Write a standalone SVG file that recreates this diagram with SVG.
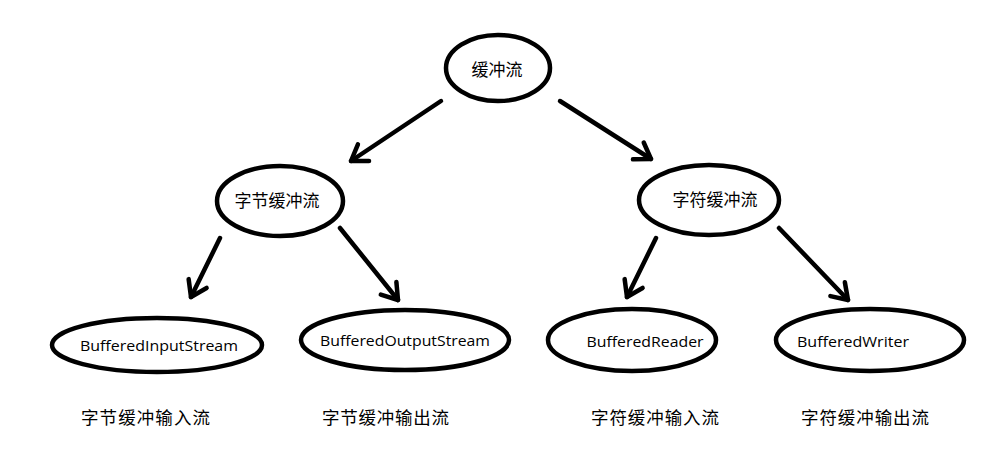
<svg xmlns="http://www.w3.org/2000/svg" width="1003" height="459" viewBox="0 0 1003 459">
<defs>
<style>
.n ellipse{fill:#fff;stroke:#000;stroke-width:4.5}
.cj{font-family:"Noto Sans CJK SC","Noto Sans",sans-serif;font-size:17px;fill:#000;text-anchor:middle}
.en{font-family:"Open Sans","Noto Sans",sans-serif;font-size:14px;fill:#000;text-anchor:middle}
.lb{font-family:"Noto Sans CJK SC","Noto Sans",sans-serif;font-size:17.5px;fill:#000}
.e line{stroke:#000;stroke-width:4.5;stroke-linecap:round;marker-end:url(#ah)}
</style>
<marker id="ah" markerUnits="userSpaceOnUse" markerWidth="40" markerHeight="40" viewBox="-20 -20 40 40" refX="0" refY="0" orient="auto" overflow="visible">
<path d="M-15,-10 L0,0 L-15,10" fill="none" stroke="#000" stroke-width="4.5" stroke-linecap="round" stroke-linejoin="round"/>
</marker>
</defs>
<rect width="1003" height="459" fill="#fff"/>
<g id="connectors" class="e">
<line x1="441" y1="101" x2="351" y2="161"/>
<line x1="560" y1="101" x2="651" y2="159"/>
<line x1="220" y1="238" x2="191" y2="297"/>
<line x1="340" y1="228" x2="398" y2="300"/>
<line x1="656" y1="238" x2="627" y2="297"/>
<line x1="779" y1="228" x2="848" y2="300"/>
</g>
<g id="root" class="n"><ellipse cx="498" cy="68" rx="52" ry="33"/><text class="cj" x="497" y="76">缓冲流</text></g>
<g id="byte" class="n"><ellipse cx="280" cy="201" rx="63" ry="35"/><text class="cj" x="277" y="207">字节缓冲流</text></g>
<g id="char" class="n"><ellipse cx="709" cy="200" rx="70" ry="35"/><text class="cj" x="715" y="206">字符缓冲流</text></g>
<g id="bis" class="n"><ellipse cx="157" cy="345" rx="105" ry="27"/><text class="en" x="159" y="351" textLength="158" lengthAdjust="spacingAndGlyphs">BufferedInputStream</text></g>
<g id="bos" class="n"><ellipse cx="405" cy="340" rx="104" ry="30"/><text class="en" x="405" y="346" textLength="170" lengthAdjust="spacingAndGlyphs">BufferedOutputStream</text></g>
<g id="br" class="n"><ellipse cx="632" cy="340" rx="84" ry="31"/><text class="en" x="645" y="347" textLength="117" lengthAdjust="spacingAndGlyphs">BufferedReader</text></g>
<g id="bw" class="n"><ellipse cx="870" cy="340" rx="94" ry="31"/><text class="en" x="853" y="347" textLength="112" lengthAdjust="spacingAndGlyphs">BufferedWriter</text></g>
<g id="labels">
<text class="lb" x="81" y="424" textLength="129">字节缓冲输入流</text>
<text class="lb" x="322" y="424" textLength="127">字节缓冲输出流</text>
<text class="lb" x="591" y="424" textLength="128">字符缓冲输入流</text>
<text class="lb" x="801" y="424" textLength="128">字符缓冲输出流</text>
</g>
</svg>
